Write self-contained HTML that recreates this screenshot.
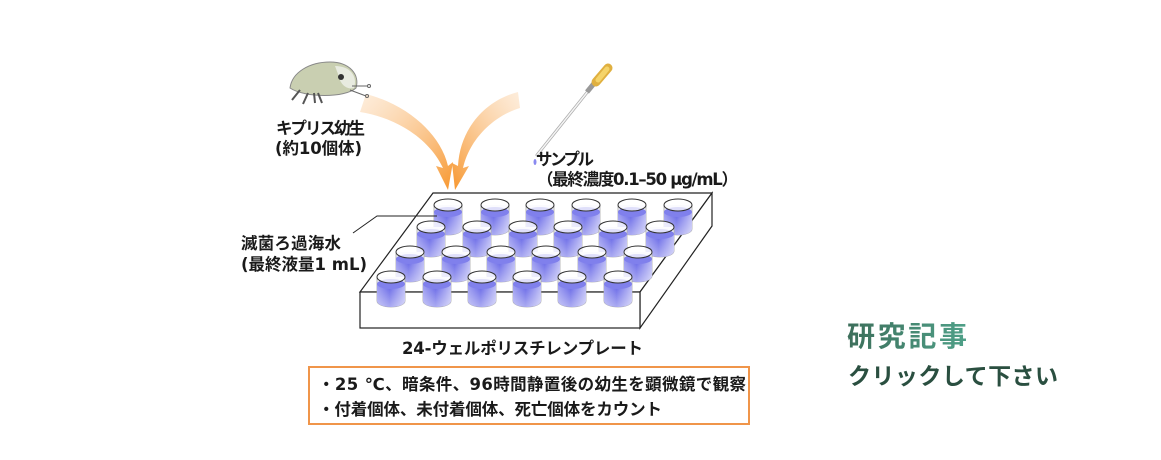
<!DOCTYPE html>
<html><head><meta charset="utf-8"><style>
html,body{margin:0;padding:0;background:#fff;}
svg{display:block;}
text{font-family:"DejaVu Sans","Noto Sans CJK JP",sans-serif;font-weight:bold;fill:#1a1a1a;}
</style></head><body>
<svg width="1161" height="460" viewBox="0 0 1161 460" xmlns="http://www.w3.org/2000/svg">
<defs>
<linearGradient id="liq" x1="0" x2="1" y1="0" y2="0">
<stop offset="0" stop-color="#9a9af0"/><stop offset="0.45" stop-color="#6464e6"/><stop offset="1" stop-color="#b8b8f4"/>
</linearGradient>
<linearGradient id="liqv" x1="0" x2="0" y1="0" y2="1">
<stop offset="0" stop-color="#fff" stop-opacity="0"/><stop offset="1" stop-color="#fff" stop-opacity="0.45"/>
</linearGradient>
<linearGradient id="arrL" x1="0" y1="0" x2="1" y2="1">
<stop offset="0" stop-color="#fbd3a8" stop-opacity="0.4"/><stop offset="1" stop-color="#f7962d"/>
</linearGradient>
<linearGradient id="arrR" x1="1" y1="0" x2="0" y2="1">
<stop offset="0" stop-color="#fbd3a8" stop-opacity="0.4"/><stop offset="1" stop-color="#f7962d"/>
</linearGradient>
<linearGradient id="g1" x1="0" x2="1"><stop offset="0" stop-color="#3c6e5a"/><stop offset="1" stop-color="#4fa088"/></linearGradient>
<g id="w">
<path d="M-14,0 L-14,24 A14,6 0 0 0 14,24 L14,0" fill="#eef0fa" stroke="#aaa" stroke-width="0.8"/>
<path d="M-14,7 L-14,24 A14,6 0 0 0 14,24 L14,7 Z" fill="url(#liq)"/>
<path d="M-14,7 L-14,24 A14,6 0 0 0 14,24 L14,7 Z" fill="url(#liqv)"/>
<ellipse cx="0" cy="7" rx="14" ry="5" fill="#8080ec"/>
<ellipse cx="0" cy="0" rx="14" ry="6" fill="#fff" fill-opacity="0.75" stroke="#333" stroke-width="1"/>
</g>
</defs>

<path d="M360,112 C398,118 430,140 443,168 L436,166 L448,190 L453,162 L448,166 C440,132 405,104 366,94 Z" fill="url(#arrL)"/>
<path d="M518,92 C486,100 460,128 458,166 L452,163 L455,190 L469,166 L463,168 C470,138 494,116 520,108 Z" fill="url(#arrR)"/>

<g>
<path d="M290,88 C292,72 310,62 330,62 C350,62 360,75 356,88 C345,98 305,98 290,88 Z" fill="#c9cfb1" stroke="#888" stroke-width="1"/>
<path d="M335,66 C350,66 358,76 354,88 C346,90 340,84 338,74 Z" fill="#e8ebe0"/>
<circle cx="341" cy="77" r="3" fill="#333"/>
<path d="M300,90 L292,100 M308,93 L303,104 M314,93 L315,103 M318,93 L322,103" stroke="#555" stroke-width="2"/>
<path d="M352,86 L368,86 M350,90 L366,96" stroke="#666" stroke-width="1"/>
<circle cx="369" cy="86" r="1.5" fill="none" stroke="#666"/><circle cx="367" cy="96" r="1.5" fill="none" stroke="#666"/>
</g>

<g>
<path d="M537,155 L589,90" stroke="#aaa" stroke-width="3" stroke-linecap="round"/>
<path d="M537,155 L589,90" stroke="#f4f4f4" stroke-width="1.5" stroke-linecap="round"/>
<path d="M587,92 L596,81" stroke="#999" stroke-width="5"/>
<path d="M596,82 L608,68" stroke="#e0b040" stroke-width="9" stroke-linecap="round"/>
<path d="M598,80 L607,69" stroke="#f5d46a" stroke-width="5" stroke-linecap="round"/>
<ellipse cx="535" cy="162" rx="1.5" ry="3" fill="#8a8af0"/>
</g>

<text x="276" y="134" font-size="16.5" textLength="89">キプリス幼生</text>
<text x="275" y="154" font-size="16.5" textLength="87">(約10個体)</text>
<text x="536" y="165" font-size="16.5" textLength="58">サンプル</text>
<text x="537" y="185" font-size="16.5" textLength="201">（最終濃度0.1–50  µg/mL）</text>
<text x="241" y="249" font-size="16.5" textLength="100">滅菌ろ過海水</text>
<text x="241" y="270" font-size="16.5" textLength="126">(最終液量1 mL)</text>

<polygon points="433,193 712,193 640,292 360,292" fill="#fff" stroke="#222" stroke-width="1.2"/>
<polygon points="712,193 712,226 640,328 640,292" fill="#fff" stroke="#222" stroke-width="1.2"/>
<rect x="360" y="292" width="280" height="36" fill="#fff" stroke="#222" stroke-width="1.2"/>

<g>
<use href="#w" x="448" y="205"/><use href="#w" x="495" y="205"/><use href="#w" x="540" y="205"/><use href="#w" x="586" y="205"/><use href="#w" x="632" y="205"/><use href="#w" x="678" y="205"/>
<use href="#w" x="431" y="227"/><use href="#w" x="477" y="227"/><use href="#w" x="523" y="227"/><use href="#w" x="568" y="227"/><use href="#w" x="613" y="227"/><use href="#w" x="660" y="227"/>
<use href="#w" x="410" y="252"/><use href="#w" x="456" y="252"/><use href="#w" x="501" y="252"/><use href="#w" x="546" y="252"/><use href="#w" x="592" y="252"/><use href="#w" x="638" y="252"/>
<use href="#w" x="391" y="277"/><use href="#w" x="437" y="277"/><use href="#w" x="482" y="277"/><use href="#w" x="527" y="277"/><use href="#w" x="572" y="277"/><use href="#w" x="618" y="277"/>
</g>
<polyline points="353,233 377,216 437,216" fill="none" stroke="#222" stroke-width="1"/>

<text x="402" y="354" font-size="16.5" textLength="241">24-ウェルポリスチレンプレート</text>

<rect x="309" y="367" width="440" height="57" fill="#fff" stroke="#f0954a" stroke-width="2"/>
<text x="318" y="390" font-size="16.5" textLength="428">・25 ℃、暗条件、96時間静置後の幼生を顕微鏡で観察</text>
<text x="318" y="415" font-size="16.5" textLength="344">・付着個体、未付着個体、死亡個体をカウント</text>

<text x="847" y="346" font-size="28" style="fill:url(#g1)" textLength="120">研究記事</text>
<text x="848" y="384" font-size="23" style="fill:#2a4f40" textLength="210">クリックして下さい</text>
</svg>
</body></html>
